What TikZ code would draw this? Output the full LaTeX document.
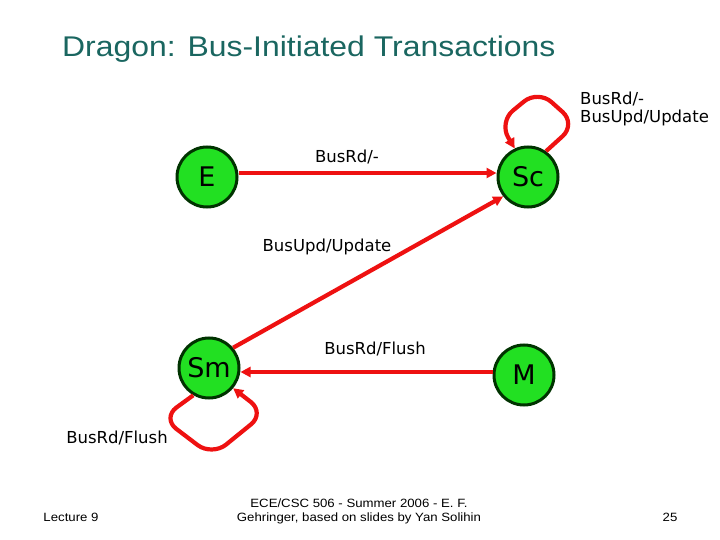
\documentclass[tikz,border=0pt]{standalone}
\usepackage{fontspec}
\setmainfont{DejaVu Sans}
\newfontfamily\titlefont[FakeStretch=1.12]{Liberation Sans}
\newfontfamily\labfont{DejaVu Sans}
\newfontfamily\footfont[FakeStretch=1.1]{Liberation Sans}
\usetikzlibrary{arrows.meta}
\definecolor{titleteal}{HTML}{1A6660}
\definecolor{stategreen}{HTML}{22E022}
\definecolor{statedark}{HTML}{003300}
\definecolor{edgered}{HTML}{EE1111}
\begin{document}
\begin{tikzpicture}[x=1pt,y=-1pt,
  state/.style={circle,draw=statedark,line width=3pt,fill=stategreen,minimum size=60pt,inner sep=0pt,font=\labfont\fontsize{27}{29}\selectfont},
  edge/.style={draw=edgered,line width=4.2pt,-{Triangle[length=10pt,width=10pt]}},
  loopedge/.style={edge,rounded corners=18pt},
  lab/.style={font=\labfont\fontsize{16.5}{18}\selectfont,inner sep=0pt},
  foot/.style={font=\footfont\fontsize{12}{14}\selectfont,inner sep=0pt,align=center}]
\useasboundingbox (0,0) rectangle (720,540);
\node[font=\titlefont\fontsize{28.5}{30}\selectfont,text=titleteal,anchor=west,inner sep=0pt] (title) at (62,49) {Dragon: Bus-Initiated Transactions};

\node[state] (E) at (207,177) {E};
\node[state] (Sc) at (528,177) {Sc};
\node[state] (Sm) at (209,368) {Sm};
\node[state] (M) at (524,375) {M};

\draw[edge] (E.east |- 0,173) -- (Sc.west |- 0,173);
\node[lab] (l1) at (347,157) {BusRd/-};

\draw[edge] (Sm.40) -- (Sc.218);
\node[lab] (l2) at (327,247) {BusUpd/Update};

\draw[edge] (M.west |- 0,372) -- (Sm.east |- 0,372);
\node[lab] (l3) at (375,349) {BusRd/Flush};

\coordinate (c1) at (576,124);
\coordinate (c2) at (538,90);
\coordinate (c3) at (499,122);
\draw[loopedge] (Sc.55) -- (c1) -- (c2) -- (c3) -- (Sc.115);
\node[lab,anchor=west,align=left] (l4) at (580,109) {BusRd/-\\BusUpd/Update};

\coordinate (d1) at (162,418);
\coordinate (d2) at (212,456);
\coordinate (d3) at (265,413);
\draw[loopedge] (Sm.240) -- (d1) -- (d2) -- (d3) -- (Sm.320);
\node[lab] (l5) at (117,438) {BusRd/Flush};

\node[foot] (f1) at (71,517) {Lecture 9};
\node[foot] (f2) at (359,511) {ECE/CSC 506 - Summer 2006 - E. F.\\Gehringer, based on slides by Yan Solihin};
\node[foot] (f3) at (670,517) {25};
\end{tikzpicture}
\end{document}
